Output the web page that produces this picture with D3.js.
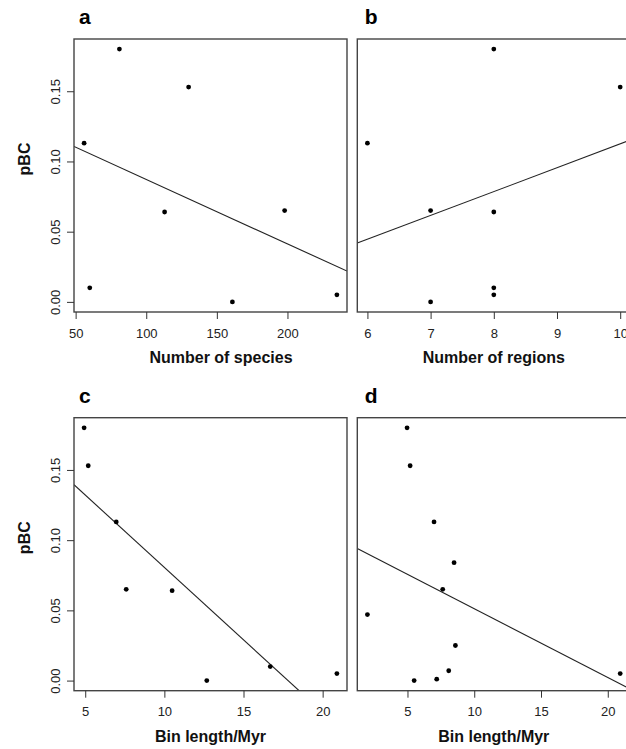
<!DOCTYPE html>
<html>
<head>
<meta charset="utf-8">
<script src="https://cdn.jsdelivr.net/npm/d3@7"></script>
<style>
  body { margin: 0; background: #fff; }
  svg { font-family: "Liberation Sans", Arial, sans-serif; }
</style>
</head>
<body>
<div id="vis"></div>
<script>
// pBC values shared by panels a, b and c
var pbc = [0.113, 0.180, 0.153, 0.010, 0.064, 0.000, 0.065, 0.005];
var nSpecies = [56, 81, 130, 60, 113, 161, 198, 235];
var nRegions = [6, 8, 10, 8, 8, 7, 7, 8];
var binLength = [6.96, 4.93, 5.19, 16.69, 10.49, 12.68, 7.59, 20.9];

// panel d has its own set
var binLengthD = [4.97, 5.2, 6.99, 8.49, 7.64, 2.0, 8.59, 8.09, 7.19, 5.5, 20.93];
var pbcD = [0.180, 0.153, 0.113, 0.084, 0.065, 0.047, 0.025, 0.007, 0.001, 0.000, 0.005];

// fitted lines: [intercept, slope]
var fitA = [0.1331, -0.000459];
var fitB = [-0.0573, 0.01698];
var fitC = [0.1837, -0.01031];
var fitD = [0.1002, -0.0049];

var yTicks = [0, 0.05, 0.10, 0.15];
var xTicksA = [50, 100, 150, 200];
var xTicksB = [6, 7, 8, 9, 10];
var xTicksC = [5, 10, 15, 20];
var xTicksD = [5, 10, 15, 20];

var width = 626, height = 749;
var pw = 273, ph = 273;
var font = "'Liberation Sans', Arial, sans-serif";

var svg = d3.select("#vis").append("svg")
  .attr("width", width)
  .attr("height", height)
  .attr("font-family", font);

// R style range: data extent padded 4% on each side
function rRange(vals) {
  var e = d3.extent(vals), p = (e[1] - e[0]) * 0.04;
  return [e[0] - p, e[1] + p];
}

var panels = [
  {id: "a", x: 74, y: 39, xs: nSpecies, ys: pbc, fit: fitA, ticks: xTicksA, xlab: "Number of species", xlabX: 221, yaxis: true},
  {id: "b", x: 357.3, y: 39, xs: nRegions, ys: pbc, fit: fitB, ticks: xTicksB, xlab: "Number of regions", xlabX: 493.8, yaxis: false},
  {id: "c", x: 74, y: 417.7, xs: binLength, ys: pbc, fit: fitC, ticks: xTicksC, xlab: "Bin length/Myr", xlabX: 210.5, yaxis: true},
  {id: "d", x: 357.3, y: 417.7, xs: binLengthD, ys: pbcD, fit: fitD, ticks: xTicksD, xlab: "Bin length/Myr", xlabX: 493.8, yaxis: false}
];

panels.forEach(function(p, i) {
  var g = svg.append("g").attr("transform", "translate(" + p.x + "," + p.y + ")");

  var xScale = d3.scaleLinear().domain(rRange(p.xs)).range([0, pw]);
  var yScale = d3.scaleLinear().domain(rRange([0, 0.18])).range([ph, 0]);

  g.append("clipPath").attr("id", "clip" + i)
    .append("rect").attr("width", pw).attr("height", ph);

  // regression line
  var line = d3.line()
    .x(function(d) { return xScale(d); })
    .y(function(d) { return yScale(p.fit[0] + p.fit[1] * d); });
  g.append("path")
    .datum(xScale.domain())
    .attr("clip-path", "url(#clip" + i + ")")
    .attr("d", line)
    .attr("fill", "none")
    .attr("stroke", "#222")
    .attr("stroke-width", 1.1);

  // points
  g.selectAll("circle")
    .data(p.xs.map(function(v, k) { return [v, p.ys[k]]; }))
    .enter().append("circle")
    .attr("cx", function(d) { return xScale(d[0]); })
    .attr("cy", function(d) { return yScale(d[1]); })
    .attr("r", 2.4)
    .attr("fill", "#000");

  // box
  g.append("rect")
    .attr("width", pw).attr("height", ph)
    .attr("fill", "none")
    .attr("stroke", "#444")
    .attr("stroke-width", 1.4);

  // x axis
  var xa = g.append("g")
    .attr("transform", "translate(0," + ph + ")")
    .call(d3.axisBottom(xScale).tickValues(p.ticks).tickSize(7).tickFormat(d3.format("d")));
  xa.attr("font-family", font).attr("font-size", 13);
  xa.select(".domain").remove();
  xa.selectAll(".tick line").attr("stroke", "#333");
  xa.selectAll(".tick text").attr("dy", null).attr("y", 25.7).attr("fill", "#222");

  if (p.yaxis) {
    var ya = g.append("g")
      .call(d3.axisLeft(yScale).tickValues(yTicks).tickSize(7).tickFormat(d3.format(".2f")));
    ya.attr("font-family", font).attr("font-size", 13);
    ya.select(".domain").remove();
    ya.selectAll(".tick line").attr("stroke", "#333");
    ya.selectAll(".tick text")
      .attr("x", null).attr("dy", null)
      .attr("text-anchor", "middle")
      .attr("fill", "#222")
      .attr("transform", "translate(-14,0) rotate(-90)");

    svg.append("text")
      .attr("transform", "translate(29.5," + (p.y + 120) + ") rotate(-90)")
      .attr("text-anchor", "middle")
      .attr("font-size", 16)
      .attr("font-weight", "bold")
      .attr("fill", "#111")
      .text("pBC");
  }

  // x label
  svg.append("text")
    .attr("x", p.xlabX)
    .attr("y", p.y + ph + 51)
    .attr("text-anchor", "middle")
    .attr("font-size", 16)
    .attr("font-weight", "bold")
    .attr("fill", "#111")
    .text(p.xlab);

  // panel letter
  svg.append("text")
    .attr("x", p.x + (p.yaxis ? 5 : 7.5))
    .attr("y", p.y - 15)
    .attr("font-size", 21)
    .attr("font-weight", "bold")
    .attr("fill", "#000")
    .text(p.id);
});
</script>
</body>
</html>
